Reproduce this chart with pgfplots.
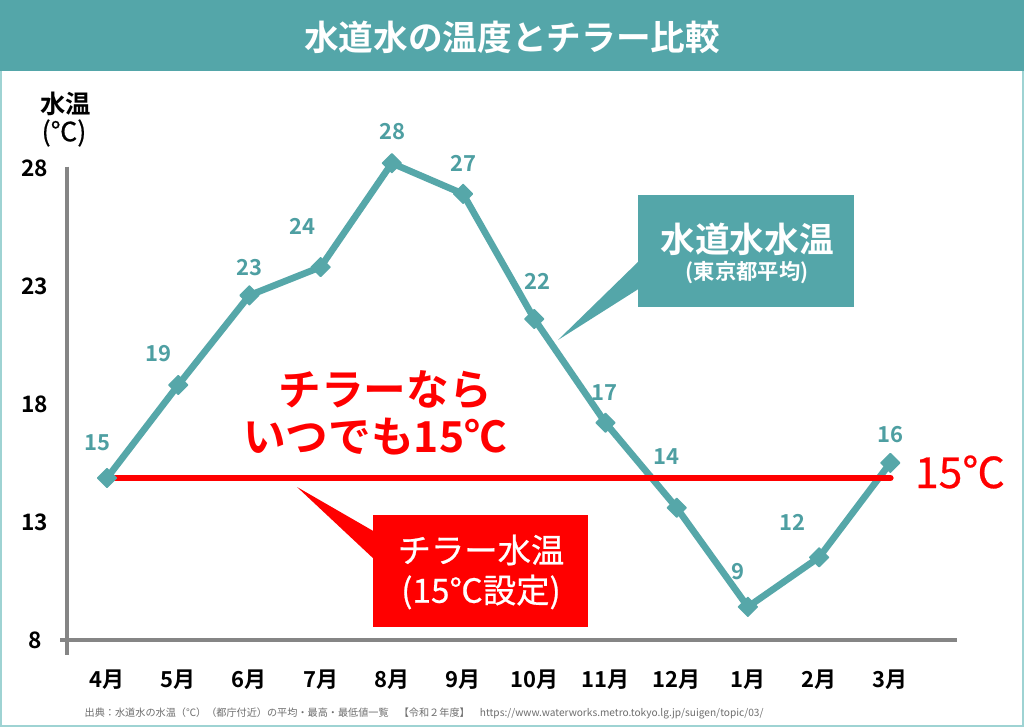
\documentclass[border=0pt]{standalone}
\usepackage{fontspec}
\setmainfont{Noto Sans CJK JP}[BoldFont={Noto Sans CJK JP Bold}]
\newfontfamily\medfont{Noto Sans CJK JP}[FakeBold=0.6]
\usepackage{pgfplots}
\pgfplotsset{compat=1.18}
\definecolor{titlebar}{HTML}{54A6A9}
\definecolor{tealline}{HTML}{56A7A9}
\definecolor{teallabel}{HTML}{4E9FA2}
\definecolor{axisgray}{HTML}{858585}
\definecolor{bordercol}{HTML}{9ED3D3}
\definecolor{notegray}{HTML}{6E6E6E}
\definecolor{chillred}{HTML}{FF0000}

\begin{document}
\begin{tikzpicture}[x=0.75pt,y=-0.75pt]
\useasboundingbox (0,0) rectangle (1024,727);
\fill[white] (0,0) rectangle (1024,727);
\fill[titlebar] (0,0) rectangle (1024,71);
\draw[bordercol, line width=1.2pt] (0.8,71) -- (0.8,726.2) -- (1023.2,726.2) -- (1023.2,71);
\node[white, font=\bfseries\fontsize{26}{30}\selectfont] at (512,37) {水道水の温度とチラー比較};

\begin{axis}[
    at={(45pt,-491.25pt)}, anchor=south west,
    scale only axis,
    width=672.4pt, height=366.2pt,
    xmin=-0.66, xmax=11.93,
    ymin=7.36, ymax=28.05,
    axis x line=bottom, axis y line=left,
    axis line style={draw=none},
    major tick length=0pt,
    xtick={0,...,11},
    xticklabels={4月,5月,6月,7月,8月,9月,10月,11月,12月,1月,2月,3月},
    ytick={8,13,18,23,28},
    yticklabels={8,13,18,23,28},
    xticklabel style={anchor=center, yshift=-18.75pt, font=\bfseries\fontsize{16.5}{18}\selectfont},
    yticklabel style={anchor=center, xshift=-18.75pt, font=\bfseries\fontsize{17}{19}\selectfont},
    clip=false
]
% axis lines
\draw[axisgray, line width=3pt] (axis cs:-0.66,8) -- (axis cs:11.93,8);
\draw[axisgray, line width=3pt] (axis cs:-0.56,28.05) -- (axis cs:-0.56,7.36);

% tap water temperature (Tokyo average)
\addplot[tealline, line width=5pt, line join=round,
    mark=square*, mark size=5pt,
    mark options={rotate=45, rounded corners=1.2pt, fill=tealline, draw=tealline, line width=1pt}]
coordinates {
    (0,14.86) (1,18.8) (2,22.6) (3,23.8) (4,28.2) (5,26.9)
    (6,21.6) (7,17.2) (8,13.6) (9,9.4) (10,11.5) (11,15.5)
};

% chiller setting 15 C
\addplot[chillred, line width=5pt, line cap=round] coordinates {(0,14.86) (11,14.86)};
\end{axis}

% value labels
\begin{scope}[every node/.style={teallabel, font=\bfseries\fontsize{16.5}{18}\selectfont}]
\node at (97,443) {15};
\node at (158,354) {19};
\node at (249,268) {23};
\node at (302,226) {24};
\node at (392,132) {28};
\node at (463,163) {27};
\node at (537,281) {22};
\node at (604,393) {17};
\node at (666,457) {14};
\node at (738,572) {9};
\node at (792,522) {12};
\node at (890,435) {16};
\end{scope}

% y label
\node[font=\bfseries\fontsize{19}{22}\selectfont] at (66,104) {水温};
\node[font=\medfont\fontsize{20}{22}\selectfont] at (64,133) {(℃)};

% teal callout
\fill[titlebar] (638,195) rectangle (854,307);
\fill[titlebar] (640,260) -- (558,340) -- (640,288) -- cycle;
\node[white, font=\bfseries\fontsize{26}{30}\selectfont] at (747,239) {水道水水温};
\node[white, font=\bfseries\fontsize{16}{18}\selectfont] at (747,273) {(東京都平均)};

% red callout
\fill[chillred] (373,515) rectangle (588,627);
\fill[chillred] (375,532) -- (297,487) -- (375,560) -- cycle;
\node[white, font=\medfont\fontsize{25}{28}\selectfont] at (481,550) {チラー水温};
\node[white, font=\medfont\fontsize{25}{28}\selectfont] at (481,592) {(15℃設定)};

% red annotations
\node[chillred, font=\bfseries\fontsize{32}{36}\selectfont] at (385,390) {チラーなら};
\node[chillred, font=\bfseries\fontsize{32}{36}\selectfont] at (375,437) {いつでも15℃};
\node[chillred, font=\medfont\fontsize{32}{36}\selectfont] at (960,472) {15℃};

% source note
\node[anchor=west, notegray, font=\fontsize{7.6}{10}\selectfont] at (80,713)
  {出典：水道水の水温（℃）（都庁付近）の平均・最高・最低値一覧　【令和２年度】　https://www.waterworks.metro.tokyo.lg.jp/suigen/topic/03/};
\end{tikzpicture}
\end{document}
